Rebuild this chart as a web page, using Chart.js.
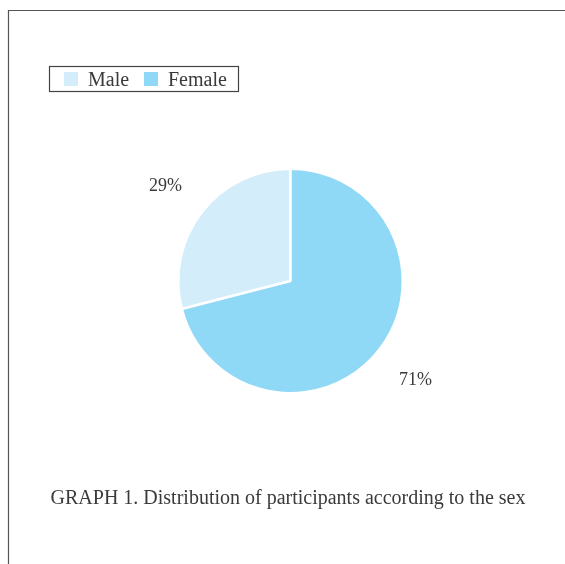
<!DOCTYPE html>
<html>
<head>
<meta charset="utf-8">
<script src="https://cdn.jsdelivr.net/npm/chart.js@4/dist/chart.umd.min.js"></script>
<style>
  html, body { margin: 0; padding: 0; background: #fff; }
  #wrap { width: 565px; height: 564px; }
</style>
</head>
<body>
<div id="wrap"><canvas id="pieChart" width="565" height="564"></canvas></div>
<script>
// data
const categories = ["Male", "Female"];
const percentages = [29, 71];
const sliceColors = ["#d3eefa", "#8fd8f6"];
const caption = "GRAPH 1. Distribution of participants according to the sex";

const textColor = "#3a3a3a";
const serif = "'Liberation Serif', 'DejaVu Serif', serif";

// frame, legend box, percent labels and caption
const decorations = {
    id: "decorations",
    beforeDraw(chart) {
        const ctx = chart.ctx;
        ctx.save();
        ctx.strokeStyle = "#555";
        ctx.lineWidth = 1.2;
        ctx.beginPath();
        ctx.moveTo(8.5, 564);
        ctx.lineTo(8.5, 10.5);
        ctx.lineTo(565, 10.5);
        ctx.stroke();
        ctx.restore();
    },
    afterDraw(chart) {
        const ctx = chart.ctx;
        const ds = chart.data.datasets[0];
        ctx.save();

        // legend
        ctx.strokeStyle = "#444";
        ctx.lineWidth = 1.2;
        ctx.strokeRect(49.5, 66.5, 189, 25);
        ctx.font = "20px " + serif;
        ctx.textBaseline = "alphabetic";
        ctx.textAlign = "left";
        const boxX = [64, 144];
        chart.data.labels.forEach((lbl, i) => {
            ctx.fillStyle = ds.backgroundColor[i];
            ctx.fillRect(boxX[i], 72, 14, 14);
            ctx.fillStyle = textColor;
            ctx.fillText(lbl, boxX[i] + 24, 86);
        });

        // percentage labels outside slices
        const meta = chart.getDatasetMeta(0);
        ctx.font = "18px " + serif;
        ctx.textAlign = "center";
        ctx.textBaseline = "middle";
        meta.data.forEach((arc, i) => {
            const mid = (arc.startAngle + arc.endAngle) / 2;
            const r = arc.outerRadius + 46;
            ctx.fillStyle = textColor;
            ctx.fillText(ds.data[i] + "%", arc.x + Math.cos(mid) * r, arc.y + Math.sin(mid) * r + 2);
        });

        // caption
        ctx.font = "20px " + serif;
        ctx.textBaseline = "alphabetic";
        ctx.fillText(caption, 288, 504);
        ctx.restore();
    }
};

new Chart(document.getElementById("pieChart"), {
    type: "pie",
    data: {
        labels: categories,
        datasets: [{
            data: percentages,
            backgroundColor: sliceColors,
            borderColor: "#ffffff",
            borderWidth: 2.5
        }]
    },
    options: {
        responsive: false,
        animation: false,
        rotation: 255.6,
        layout: { padding: { top: 167, bottom: 169, left: 177, right: 161 } },
        plugins: {
            legend: { display: false },
            tooltip: { enabled: false }
        }
    },
    plugins: [decorations]
});
</script>
</body>
</html>
